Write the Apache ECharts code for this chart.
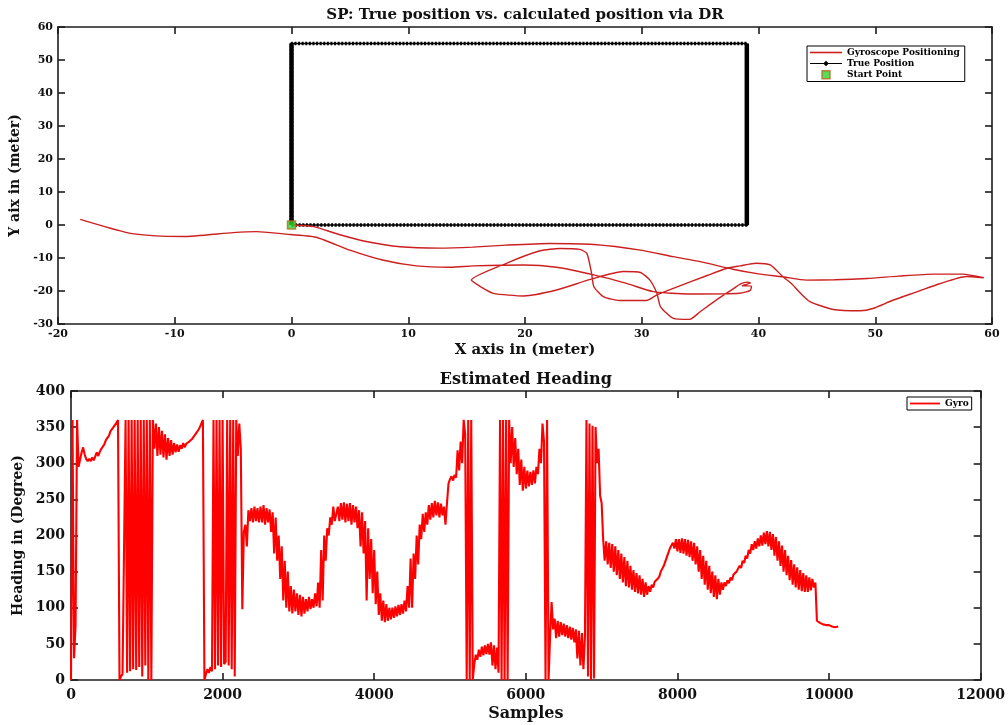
<!DOCTYPE html>
<html>
<head>
<meta charset="utf-8">
<title>SP: True position vs. calculated position via DR</title>
<script src="https://cdn.jsdelivr.net/npm/echarts@6/dist/echarts.min.js"></script>
<style>
html, body { margin: 0; padding: 0; background: #fff; }
#chart { width: 1008px; height: 725px; }
</style>
</head>
<body>
<div id="chart"></div>
<script>
// ---- top plot: dead reckoning track vs true walked rectangle (meters)
const gyroX = [0, 1.9, 4, 6.4, 9.3, 12.7, 15.5, 18.4, 22.1, 25.9, 29.9, 32.7, 35, 37.8, 40, 42.1, 44.1, 46.5, 49.3, 52, 55, 57.5, 59.3,
  57.8, 55.5, 53.6, 51.5, 49.8, 48.7, 46.4, 44.4, 43.6, 42.9, 42.1, 41, 39.8, 38.4, 37.3, 35.6, 32.7, 31.3, 30.4, 28.1, 26.7, 25.9, 25.7, 25.3, 24.7, 23, 21.3, 18.4, 15.4,
  16.2, 17.3, 19.9, 22.7, 25.6, 28.4, 29.9, 30.7, 31.3, 31.6, 32.7, 34.1, 35, 36.4, 37.9, 38.5, 39, 39.3, 38.6, 39.4, 39.3,
  38.4, 34.1, 31, 28.7, 25.9, 22.7, 19.9, 15.6, 13.6, 10.7, 7.8, 5, 2.1, -0.7, -3, -5, -9.3, -11.6, -14.1, -18.1];
const gyroY = [0, -0.5, -2.8, -5, -6.6, -7, -6.7, -6.1, -5.6, -5.9, -7.6, -9.6, -11.1, -13.4, -14.8, -15.7, -16.7, -16.6, -16.2, -15.5, -14.9, -14.9, -16,
  -15.6, -17.8, -20.2, -22.8, -25.3, -26, -25.6, -23.2, -20.7, -18, -15.7, -12.1, -11.6, -12.4, -13.1, -15.3, -19.2, -21.2, -22.9, -22.9, -21.7, -18.7, -14.6, -8.6, -7.4, -7.1, -7.8, -11.6, -16.7,
  -18.7, -20.7, -21.5, -19.7, -16.5, -14.1, -14.4, -16.7, -20.7, -24.7, -28.3, -28.6, -26.3, -22.7, -19.2, -17.8, -17.3, -17.6, -18.4, -18.5, -19.8,
  -20.7, -20.9, -20.2, -17.7, -15.1, -12.8, -12.1, -12.4, -12.8, -12.4, -10.6, -7.6, -3.7, -2.7, -2, -2.3, -3.5, -3.3, -2.3, 1.7];
const trueX = [0, 39, 39, 0, 0];
const trueY = [0, 0, 55, 55, 0];
const startPoint = [0, 0];
const posXTicks = [-20, -10, 0, 10, 20, 30, 40, 50, 60];
const posYTicks = [-30, -20, -10, 0, 10, 20, 30, 40, 50, 60];

// ---- bottom plot: gyro heading (degrees), one value every SAMPLE_STEP samples
const SAMPLE_STEP = 20;
const heading = [
  0, 360, 30, 75, 360, 295, 305, 315, 322, 312, 306, 303, 306, 303, 308, 304, 306, 315, 310, 316, 320, 318, 326, 332, 335,
  338, 344, 342, 350, 352, 356, 360, 0, 5, 8, 10, 360, 10, 360, 12, 360, 15, 360, 14, 360, 18, 360, 5, 360, 20,
  360, 0, 360, 0, 360, 320, 355, 310, 350, 312, 345, 308, 340, 305, 335, 310, 332, 312, 328, 315, 326, 316, 325, 320, 328,
  322, 327, 325, 330, 328, 334, 332, 340, 338, 346, 350, 355, 360, 0, 8, 15, 10, 18, 12, 360, 15, 360, 20, 360, 18,
  360, 22, 25, 360, 20, 360, 15, 360, 5, 360, 310, 355, 320, 98, 205, 215, 185, 235, 220, 238, 218, 240, 220, 238, 218,
  240, 218, 242, 215, 238, 218, 236, 205, 232, 175, 225, 165, 200, 140, 185, 110, 165, 100, 150, 95, 130, 92, 125, 95, 120,
  90, 118, 88, 115, 92, 112, 95, 115, 98, 112, 100, 120, 102, 135, 100, 180, 110, 200, 165, 210, 200, 225, 215, 240, 220,
  222, 240, 220, 245, 222, 246, 218, 244, 220, 245, 215, 242, 218, 240, 210, 235, 185, 232, 175, 220, 110, 210, 140, 195, 120,
  180, 105, 150, 90, 120, 82, 110, 80, 105, 82, 100, 84, 100, 86, 102, 88, 104, 90, 105, 92, 110, 95, 130, 100, 168,
  100, 175, 140, 200, 160, 215, 195, 230, 205, 232, 215, 242, 222, 245, 225, 248, 228, 246, 225, 244, 228, 240, 215, 245, 272,
  278, 282, 276, 284, 280, 318, 290, 330, 300, 360, 340, 0, 360, 0, 360, 0, 22, 35, 28, 42, 32, 46, 34, 48, 36,
  50, 35, 52, 20, 48, 15, 45, 10, 360, 0, 360, 0, 360, 0, 360, 300, 350, 295, 335, 285, 320, 270, 305, 262, 295,
  265, 290, 268, 288, 270, 290, 272, 295, 285, 320, 300, 355, 330, 0, 360, 0, 60, 108, 70, 85, 58, 82, 60, 80, 62,
  78, 60, 76, 58, 74, 56, 72, 52, 70, 30, 68, 20, 65, 15, 60, 360, 5, 355, 0, 352, 2, 350, 300, 320, 255,
  245, 195, 165, 192, 160, 190, 155, 188, 150, 185, 145, 180, 140, 175, 135, 170, 130, 165, 128, 158, 125, 152, 122, 148, 120,
  145, 118, 140, 115, 135, 118, 130, 122, 132, 128, 136, 134, 140, 143, 150, 148, 158, 160, 170, 172, 182, 180, 190, 182, 195,
  178, 195, 176, 196, 175, 195, 172, 194, 170, 192, 165, 190, 160, 185, 150, 180, 140, 172, 132, 165, 125, 158, 120, 150, 115,
  145, 112, 140, 118, 135, 125, 135, 130, 138, 134, 142, 138, 146, 144, 150, 148, 158, 155, 165, 162, 172, 168, 180, 175, 188,
  180, 192, 182, 196, 185, 200, 186, 204, 188, 206, 185, 205, 180, 202, 172, 198, 165, 192, 158, 186, 150, 180, 145, 172, 138,
  166, 132, 160, 128, 156, 125, 152, 123, 148, 122, 145, 122, 142, 124, 140, 128, 135, 82, 80, 79, 78, 77, 76, 76, 76,
  76, 77, 74, 75, 73, 75, 74
];
const headXTicks = [0, 2000, 4000, 6000, 8000, 10000, 12000];
const headYTicks = [0, 50, 100, 150, 200, 250, 300, 350, 400];

const FONT = 'DejaVu Serif';
const INK = '#1c1c1c';

// one axis of the MATLAB style box: ticks inside, labels only on bottom/left
function boxAxis(grid, pos, ticks, opts) {
  const o = opts || {};
  return {
    gridIndex: grid,
    type: 'value',
    position: pos,
    min: ticks[0],
    max: ticks[ticks.length - 1],
    interval: ticks[1] - ticks[0],
    axisLine: { onZero: false, lineStyle: { color: INK, width: 1.6 } },
    axisTick: { inside: true, length: 7, lineStyle: { color: INK, width: 1.6 } },
    axisLabel: o.labelSize ? {
      color: '#111', fontFamily: FONT, fontWeight: 'bold', fontSize: o.labelSize, margin: o.margin || 6,
      formatter: v => String(v)
    } : { show: false },
    splitLine: { show: false },
    name: o.name || '',
    nameLocation: 'middle',
    nameGap: o.nameGap || 0,
    nameTextStyle: { color: '#111', fontFamily: FONT, fontWeight: 'bold', fontSize: o.nameSize || 15 }
  };
}

const truePts = trueX.map((x, i) => [x, trueY[i]]);

const chart = echarts.init(document.getElementById('chart'), null, { renderer: 'canvas' });

chart.setOption({
  backgroundColor: '#fff',
  animation: false,
  grid: [
    { left: 58, top: 27, width: 934, height: 297 },
    { left: 71, top: 391, width: 911, height: 289 }
  ],
  xAxis: [
    boxAxis(0, 'bottom', posXTicks, { labelSize: 11, margin: 5, name: 'X axis in (meter)', nameGap: 19, nameSize: 15 }),
    boxAxis(0, 'top', posXTicks, { name: 'SP: True position vs. calculated position via DR', nameGap: 4, nameSize: 15 }),
    boxAxis(1, 'bottom', headXTicks, { labelSize: 14, margin: 8, name: 'Samples', nameGap: 26, nameSize: 16 }),
    boxAxis(1, 'top', headXTicks, { name: 'Estimated Heading', nameGap: 3, nameSize: 16 })
  ],
  yAxis: [
    boxAxis(0, 'left', posYTicks, { labelSize: 11, margin: 5, name: 'Y aix in (meter)', nameGap: 29, nameSize: 14 }),
    boxAxis(0, 'right', posYTicks),
    boxAxis(1, 'left', headYTicks, { labelSize: 14, margin: 6, name: 'Heading in (Degree)', nameGap: 40, nameSize: 14 }),
    boxAxis(1, 'right', headYTicks)
  ],
  legend: [
    {
      left: 807, top: 46, orient: 'vertical',
      itemWidth: 32, itemHeight: 8, itemGap: 2,
      padding: [2, 5, 2, 3],
      borderColor: '#000', borderWidth: 1, backgroundColor: '#fff',
      selectedMode: false,
      textStyle: { fontFamily: FONT, fontWeight: 'bold', fontSize: 9, color: '#000' },
      data: [
        { name: 'Gyroscope Positioning', icon: 'path://M0,0H40V2H0Z', itemStyle: { color: '#cc1f1f', borderWidth: 0 } },
        { name: 'True Position', icon: 'path://M0,4.4H40V5.6H0ZM16.5,5L20,1.5L23.5,5L20,8.5Z', itemStyle: { color: '#000', borderWidth: 0 } },
        { name: 'Start Point', icon: 'path://M0,0H10V10H0Z', itemStyle: { color: '#2fd42f', borderColor: '#b36a1e', borderWidth: 1.5 } }
      ]
    },
    {
      left: 907, top: 397, orient: 'vertical',
      itemWidth: 30, itemHeight: 8,
      padding: [2, 3, 2, 3],
      borderColor: '#000', borderWidth: 1, backgroundColor: '#fff',
      selectedMode: false,
      textStyle: { fontFamily: FONT, fontWeight: 'bold', fontSize: 9, color: '#000' },
      data: [{ name: 'Gyro', icon: 'path://M0,0H40V2.4H0Z', itemStyle: { color: '#ff0000', borderWidth: 0 } }]
    }
  ],
  series: [
    {
      name: 'True Position',
      type: 'line',
      xAxisIndex: 0, yAxisIndex: 0,
      data: truePts,
      symbol: 'none',
      color: '#000',
      lineStyle: { color: '#000', width: 1.4 },
      z: 2
    },
    {
      // star markers along the true track, drawn as a dotted overlay
      name: 'True Position markers',
      type: 'line',
      xAxisIndex: 0, yAxisIndex: 0,
      data: truePts,
      symbol: 'none',
      lineStyle: { color: '#000', width: 3.6, type: [2, 1.6] },
      silent: true,
      z: 2
    },
    {
      // markers overlap into a solid band on the short-step vertical legs
      name: 'True Position right leg',
      type: 'line',
      xAxisIndex: 0, yAxisIndex: 0,
      data: truePts.slice(1, 3),
      symbol: 'none',
      lineStyle: { color: '#000', width: 4.5 },
      silent: true,
      z: 2
    },
    {
      name: 'True Position left leg',
      type: 'line',
      xAxisIndex: 0, yAxisIndex: 0,
      data: truePts.slice(3, 5),
      symbol: 'none',
      lineStyle: { color: '#000', width: 4.5 },
      silent: true,
      z: 2
    },
    {
      name: 'Gyroscope Positioning',
      type: 'line',
      xAxisIndex: 0, yAxisIndex: 0,
      data: gyroX.map((x, i) => [x, gyroY[i]]),
      symbol: 'none',
      smooth: 0.2,
      color: '#cc1f1f',
      lineStyle: { color: '#cc1f1f', width: 1.4 },
      z: 3
    },
    {
      name: 'Start Point',
      type: 'scatter',
      xAxisIndex: 0, yAxisIndex: 0,
      data: [startPoint],
      symbol: 'rect',
      symbolSize: 8,
      itemStyle: { color: '#2fd42f', borderColor: '#b36a1e', borderWidth: 1.5 },
      z: 5
    },
    {
      name: 'Gyro',
      type: 'line',
      xAxisIndex: 2, yAxisIndex: 2,
      data: heading.map((v, i) => [i * SAMPLE_STEP, v]),
      symbol: 'none',
      color: '#ff0000',
      lineStyle: { color: '#ff0000', width: 2.1 },
      z: 3
    }
  ]
});
</script>
</body>
</html>
